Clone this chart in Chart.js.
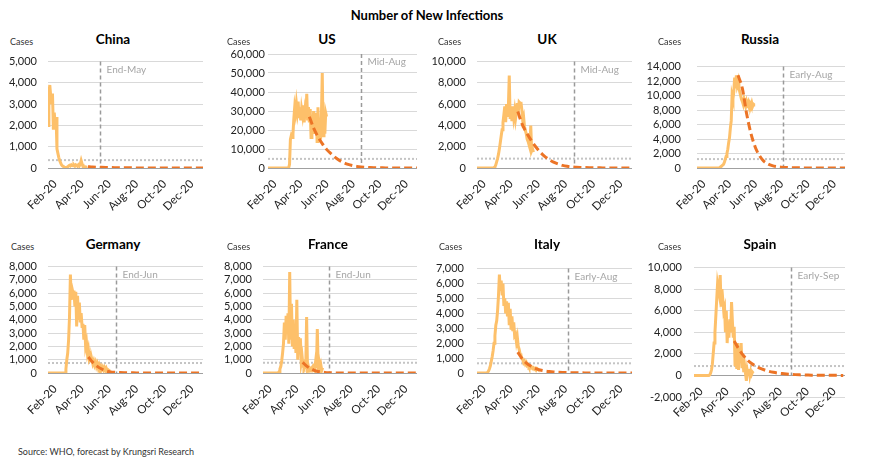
<!DOCTYPE html>
<html>
<head>
<meta charset="utf-8">
<script src="https://cdn.jsdelivr.net/npm/chart.js@4.4.0/dist/chart.umd.min.js"></script>
<style>
	body { margin: 0; background: #fff; width: 870px; height: 464px; position: relative; overflow: hidden; font-family: Lato, 'Open Sans', sans-serif; }
	canvas { position: absolute; }
	.ttl { position: absolute; width: 120px; text-align: center; font-weight: bold; font-size: 13.5px; color: #000; }
	.cases { position: absolute; font-size: 9px; color: #333; }
	#main { position: absolute; top: 7px; left: 0; width: 854px; text-align: center; font-weight: bold; font-size: 13px; }
	#src { position: absolute; left: 18px; top: 446px; font-size: 9px; color: #333; }
</style>
</head>
<body>
<div id="main">Number of New Infections</div>
<div id="src">Source: WHO, forecast by Krungsri Research</div>
<script>
// x axis = days since 1 Feb 2020
const xTickDays = [0, 60, 121, 182, 244, 305];
const xTickLabels = ['Feb-20', 'Apr-20', 'Jun-20', 'Aug-20', 'Oct-20', 'Dec-20'];
const actualStart = -16; // daily data sampled every 2 days
const forecastStep = 10;

const countries = ['China', 'US', 'UK', 'Russia', 'Germany', 'France', 'Italy', 'Spain'];
const yMin = [0, 0, 0, 0, 0, 0, 0, -2000];
const yMax = [5000, 60000, 10000, 14000, 8000, 8000, 7000, 10000];
const yStep = [1000, 10000, 2000, 2000, 1000, 1000, 1000, 2000];
const thresholds = [370, 4800, 880, 1230, 750, 770, 650, 870];
const markerDays = [100, 200, 201, 185, 136, 132, 187, 206];
const markerLabels = ['End-May', 'Mid-Aug', 'Mid-Aug', 'Early-Aug', 'End-Jun', 'End-Jun', 'Early-Aug', 'Early-Sep'];
const forecastStart = [73, 80, 75, 80, 74, 73, 75, 76];

const chinaActual = [2000, 3500, 3900, 3400, 3000, 3500, 1800, 2600, 2000, 2400, 900, 700, 500, 350, 250, 150, 100, 80, 40, 20,
	10, 30, 60, 100, 130, 100, 150, 120, 100, 140, 90, 150, 120, 80, 150, 100, 180, 350, 200, 80, 60, 40, 50, 30, 40];
const usActual = [0, 0, 0, 0, 0, 0, 0, 0, 0, 0, 0, 0, 0, 0, 0, 0, 0, 0, 0, 0, 0, 0, 0, 0,
	0, 2000, 15000, 17000, 16000, 18000, 26000, 32000, 29000, 34000, 30000, 35000, 27000, 32000, 25000, 31000, 28000, 33000, 24000, 30000,
	27000, 39000, 25000, 32000, 24000, 31000, 16000, 27000, 22000, 30000, 18000, 25000, 29000, 14000, 32000, 19000, 26000, 15000, 27000, 50000,
	17000, 30000, 18000, 29000, 27000];
const ukActual = [0, 0, 0, 0, 0, 0, 0, 0, 0, 0, 0, 0, 0, 0, 0, 0, 0, 0, 0,
	50, 100, 300, 600, 900, 1300, 1800, 2400, 3000, 3600, 4300, 5000, 5800, 4300, 6000, 4800, 5700, 8700, 4600, 5600,
	4400, 5800, 4800, 5400, 4600, 5200, 6100, 5200, 6200, 6100, 6200, 5500, 4500, 4800, 3900, 3500, 3200, 2700, 2500, 2200,
	1900, 4000, 1600, 1800, 1500];
const russiaActual = [0, 0, 0, 0, 0, 0, 0, 0, 0, 0, 0, 0, 0, 0, 0, 0, 0, 0, 0, 0, 0, 0, 0, 0, 0, 0, 0,
	100, 200, 300, 400, 500, 800, 1200, 1600, 2000, 2600, 3500, 4200, 5500, 6500, 10000, 9500, 10500, 12500, 11000, 12800,
	11500, 12000, 11000, 10500, 10000, 9500, 9200, 8800, 9500, 9000, 8600, 9200, 8800, 9100, 8500, 8900, 8600, 9000, 8500, 8800,
	8700, 8700];
const germanyActual = [0, 0, 0, 0, 0, 0, 0, 0, 0, 0, 0, 0, 0, 0, 0, 0, 0, 0, 0, 0,
	300, 1000, 1500, 2500, 4200, 7400, 5500, 6300, 6000, 6200, 5000, 6100, 3500, 5800, 4000, 5300, 3800, 4500, 3500, 3700,
	2500, 3600, 2000, 2300, 1500, 1800, 1100, 1300, 900, 1000, 700, 900, 600, 800, 500, 700, 400, 600, 350, 500,
	300, 450, 250, 400, 200, 350, 150, 250, 200, 150];
const franceActual = [0, 0, 0, 0, 0, 0, 0, 0, 0, 0, 0, 0, 0, 0, 0, 0, 0, 0,
	100, 300, 500, 900, 1500, 2200, 3800, 2500, 4300, 3200, 4500, 2200, 7600, 2500, 5200, 2000, 4000, 1800, 3500, 1500,
	5500, 1000, 2700, 1800, 2600, 800, 1200, 500, 400, 700, 300, 4200, 300, 500, 200, 300, 150, 400, 500, 300,
	200, 800, 400, 3300, 500, 800, 300, 600, 200, 400];
const italyActual = [0, 0, 0, 0, 0, 0, 0, 0, 0, 0, 0, 0,
	50, 150, 300, 500, 800, 1100, 1500, 2000, 2500, 3200, 3500, 4200, 5200, 6600, 5500, 6200, 5300, 6000, 4500, 5000,
	4000, 4800, 3800, 4700, 3200, 4300, 3000, 3800, 2800, 3400, 2500, 2600, 2100, 2400, 1800, 1600, 1300, 1200, 1000, 900,
	700, 800, 600, 700, 500, 550, 400, 450, 350, 400, 300, 350, 250, 300, 200, 300, 250];
const spainActual = [0, 0, 0, 0, 0, 0, 0, 0, 0, 0, 0, 0, 0, 0, 0, 0, 0, 0,
	50, 200, 500, 1000, 2000, 3000, 4000, 5500, 7000, 8500, 8000, 7500, 9300, 6500, 8000, 7000, 6000, 6300, 4000, 6000,
	3000, 5000, 3500, 5200, 4000, 6800, 5000, 3500, 4500, 1000, 2000, 600, 3000, 500, 2500, 1500, 3000, 800, 1600, 300,
	900, 200, -500, 500, 100, 600, 0, 400, 100, 300, 200];

const chinaForecast = [60, 45, 35, 30, 25, 20, 15, 12, 10, 8, 6, 5, 4, 3, 3, 2, 2, 2, 1, 1, 1, 1, 1, 1, 1, 1, 1];
const usForecast = [27000, 21000, 16500, 12800, 9800, 7600, 5600, 4000, 2800, 1900, 1300, 850, 550, 380, 260, 180, 120, 80, 60, 40, 30, 20, 15, 10, 8, 5];
const ukForecast = [5300, 4100, 3300, 2600, 2000, 1500, 1100, 800, 550, 380, 250, 160, 100, 70, 50, 40, 30, 20, 15, 10, 8, 6, 5, 4, 3, 2, 2];
const russiaForecast = [12800, 11000, 7500, 4800, 2900, 1700, 950, 550, 320, 190, 110, 70, 45, 30, 20, 15, 10, 8, 6, 5, 4, 3, 2, 2, 1, 1];
const germanyForecast = [1200, 800, 500, 300, 150, 80, 50, 30, 20, 15, 10, 8, 6, 5, 4, 3, 2, 2, 1, 1, 1, 1, 1, 1, 1, 1, 1];
const franceForecast = [800, 500, 300, 150, 80, 40, 20, 10, 8, 6, 5, 4, 3, 2, 2, 1, 1, 1, 1, 1, 1, 1, 1, 1, 1, 1, 1];
const italyForecast = [1400, 950, 650, 450, 300, 200, 140, 100, 70, 50, 35, 25, 20, 15, 10, 8, 6, 5, 4, 3, 2, 2, 1, 1, 1, 1, 1];
const spainForecast = [3200, 2500, 1900, 1450, 1100, 850, 650, 500, 380, 290, 220, 170, 130, 100, 75, 55, 40, 30, 25, 20, 15, 10, 8, 6, 5, 4];

const actuals = [chinaActual, usActual, ukActual, russiaActual, germanyActual, franceActual, italyActual, spainActual];
const forecasts = [chinaForecast, usForecast, ukForecast, russiaForecast, germanyForecast, franceForecast, italyForecast, spainForecast];

// panel placement (canvas corner, plot box, title/label positions)
const panels = [
	{ cx: 0, cy: 44, pl: 48, pr: 203, pt: 54, pb: 168, gap: 11, tx: 113, ty: 31, kx: 10, ky: 36 },
	{ cx: 215, cy: 44, pl: 268, pr: 417, pt: 54, pb: 168, gap: 3, tx: 327, ty: 31, kx: 227, ky: 36 },
	{ cx: 430, cy: 44, pl: 477, pr: 632, pt: 54, pb: 168, gap: 11, tx: 547, ty: 31, kx: 438, ky: 36 },
	{ cx: 645, cy: 44, pl: 697, pr: 845, pt: 54, pb: 168, gap: 16, tx: 760, ty: 31, kx: 658, ky: 36 },
	{ cx: 0, cy: 249, pl: 48, pr: 203, pt: 259, pb: 373, gap: 11, tx: 113, ty: 236, kx: 11, ky: 241 },
	{ cx: 215, cy: 249, pl: 263, pr: 417, pt: 259, pb: 373, gap: 11, tx: 328, ty: 236, kx: 227, ky: 241 },
	{ cx: 430, cy: 249, pl: 477, pr: 632, pt: 259, pb: 373, gap: 13, tx: 547, ty: 236, kx: 439, ky: 241 },
	{ cx: 645, cy: 249, pl: 694, pr: 845, pt: 259, pb: 397, gap: 12, tx: 760, ty: 236, kx: 658, ky: 241 }
];

Chart.defaults.font.family = 'Lato, "Open Sans", sans-serif';

// threshold (dotted) + deadline marker (dashed) drawn under the data
const markerPlugin = {
	id: 'marker',
	beforeDatasetsDraw(chart, args, opts) {
		const { ctx, chartArea: a, scales: { x, y } } = chart;
		ctx.save();
		const ty = y.getPixelForValue(opts.level);
		ctx.strokeStyle = '#c4c4c4';
		ctx.lineWidth = 2;
		ctx.setLineDash([2, 2]);
		ctx.beginPath();
		ctx.moveTo(a.left, ty);
		ctx.lineTo(a.right, ty);
		ctx.stroke();

		const vx = Math.round(x.getPixelForValue(opts.day)) + 0.5;
		ctx.strokeStyle = '#9a9a9a';
		ctx.lineWidth = 1.5;
		ctx.setLineDash([4, 3]);
		ctx.beginPath();
		ctx.moveTo(vx, a.top);
		ctx.lineTo(vx, y.getPixelForValue(0));
		ctx.stroke();
		ctx.setLineDash([]);
		ctx.fillStyle = '#a6a6a6';
		ctx.font = '10px Lato, "Open Sans", sans-serif';
		ctx.textBaseline = 'middle';
		ctx.fillText(opts.label, vx + 6, a.top + 8);
		ctx.restore();
	}
};

countries.forEach((name, i) => {
	const p = panels[i];
	const cw = p.pr - p.cx + 14;
	const ch = 180;

	const ttl = document.createElement('div');
	ttl.className = 'ttl';
	ttl.textContent = name;
	ttl.style.left = (p.tx - 60) + 'px';
	ttl.style.top = p.ty + 'px';
	document.body.appendChild(ttl);

	const cases = document.createElement('div');
	cases.className = 'cases';
	cases.textContent = 'Cases';
	cases.style.left = p.kx + 'px';
	cases.style.top = p.ky + 'px';
	document.body.appendChild(cases);

	const canvas = document.createElement('canvas');
	canvas.width = cw;
	canvas.height = ch;
	canvas.style.left = p.cx + 'px';
	canvas.style.top = p.cy + 'px';
	document.body.appendChild(canvas);

	const act = actuals[i].map((v, k) => ({ x: actualStart + k * 2, y: v }));
	const fc = forecasts[i].map((v, k) => ({ x: forecastStart[i] + k * forecastStep, y: v }));

	new Chart(canvas, {
		type: 'line',
		data: {
			datasets: [
				{
					data: fc,
					borderColor: '#ec7426',
					borderWidth: 3,
					borderDash: [8, 4],
					pointRadius: 0,
					cubicInterpolationMode: 'monotone'
				},
				{
					data: act,
					borderColor: '#fdc06a',
					borderWidth: 3,
					pointRadius: 0,
					tension: 0
				}
			]
		},
		options: {
			responsive: false,
			animation: false,
			devicePixelRatio: 1,
			layout: {
				padding: { top: p.pt - p.cy, bottom: ch - (p.pb - p.cy), left: 0, right: cw - (p.pr - p.cx) }
			},
			plugins: {
				legend: { display: false },
				tooltip: { enabled: false },
				marker: { level: thresholds[i], day: markerDays[i], label: markerLabels[i] }
			},
			scales: {
				x: {
					type: 'linear',
					min: -16,
					max: 330,
					position: { y: 0 },
					grid: { display: false, drawTicks: false },
					border: { display: false },
					afterBuildTicks: (s) => {
						s.ticks = xTickDays.map((v) => ({ value: v }));
					},
					ticks: {
						autoSkip: false,
						minRotation: 45,
						maxRotation: 45,
						padding: 9,
						color: '#222',
						font: { size: 11.5 },
						callback: (v) => xTickLabels[xTickDays.indexOf(v)]
					}
				},
				y: {
					min: yMin[i],
					max: yMax[i],
					grid: {
						drawTicks: false,
						color: (c) => (c.tick.value === 0 ? '#a0a0a0' : '#d9d9d9')
					},
					border: { display: false },
					afterFit: (s) => {
						s.width = p.pl - p.cx;
					},
					ticks: {
						autoSkip: false,
						stepSize: yStep[i],
						padding: p.gap,
						color: '#222',
						font: { size: 11 },
						callback: (v) => v.toLocaleString('en-US')
					}
				}
			}
		},
		plugins: [markerPlugin]
	});
});
</script>
</body>
</html>
